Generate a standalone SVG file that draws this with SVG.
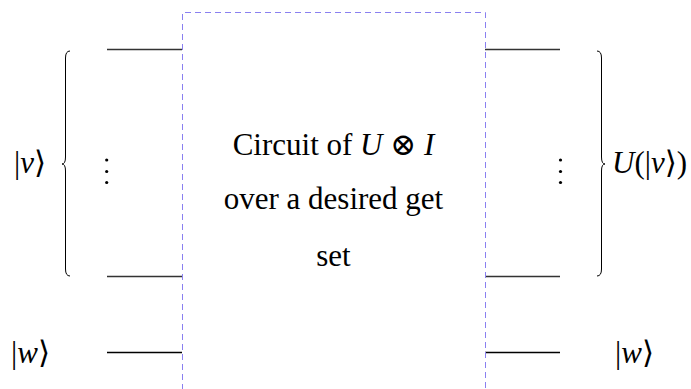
<svg xmlns="http://www.w3.org/2000/svg" width="691" height="389" viewBox="0 0 691 389">
<style>
text{font-family:'Liberation Serif','DejaVu Serif',serif;font-size:31px;fill:#000}
.i{font-style:italic}
.w{stroke:#333;stroke-width:1.3;fill:none}
.br{stroke:#000;stroke-width:1;fill:none}
.box{stroke:#8a80f0;stroke-width:1;stroke-dasharray:6,4;fill:none}
</style>
<rect width="691" height="389" fill="#fff"/>
<g id="connectors">
<line class="w" x1="107" y1="49.5" x2="182" y2="49.5"/>
<line class="w" x1="107" y1="276.5" x2="182" y2="276.5"/>
<line class="w" x1="107" y1="352.5" x2="182" y2="352.5" style="stroke:#000"/>
<line class="w" x1="485" y1="49.5" x2="560" y2="49.5"/>
<line class="w" x1="485" y1="276.5" x2="560" y2="276.5"/>
<line class="w" x1="485" y1="352.5" x2="560" y2="352.5" style="stroke:#000"/>
</g>
<g id="circuit">
<path class="box" d="M182.5,400 V12.5 H485.5 V400"/>
<text x="333.5" y="155" text-anchor="middle">Circuit of <tspan class="i">U</tspan> ⊗ <tspan class="i">I</tspan></text>
<text x="333.5" y="209" text-anchor="middle">over a desired get</text>
<text x="333.5" y="266" text-anchor="middle">set</text>
</g>
<g id="v-in">
<path class="br" d="M70,51 Q65.5,51 65.5,58 V157 Q65.5,164 62,164 Q65.5,164 65.5,171 V269 Q65.5,276 70,276"/>
<text x="14" y="173">|<tspan class="i">v</tspan>⟩</text>
<circle cx="106.7" cy="160" r="1.6"/><circle cx="106.7" cy="171.5" r="1.6"/><circle cx="106.7" cy="182.5" r="1.6"/>
</g>
<g id="v-out">
<path class="br" d="M597,51 Q601.5,51 601.5,58 V157 Q601.5,164 605,164 Q601.5,164 601.5,171 V269 Q601.5,276 597,276"/>
<text x="612" y="173"><tspan class="i">U</tspan>(|<tspan class="i">v</tspan>⟩)</text>
<circle cx="560.5" cy="160" r="1.6"/><circle cx="560.5" cy="171.5" r="1.6"/><circle cx="560.5" cy="182.5" r="1.6"/>
</g>
<g id="w-in">
<text x="11" y="363">|<tspan class="i">w</tspan>⟩</text>
</g>
<g id="w-out">
<text x="615" y="363">|<tspan class="i">w</tspan>⟩</text>
</g>
</svg>
